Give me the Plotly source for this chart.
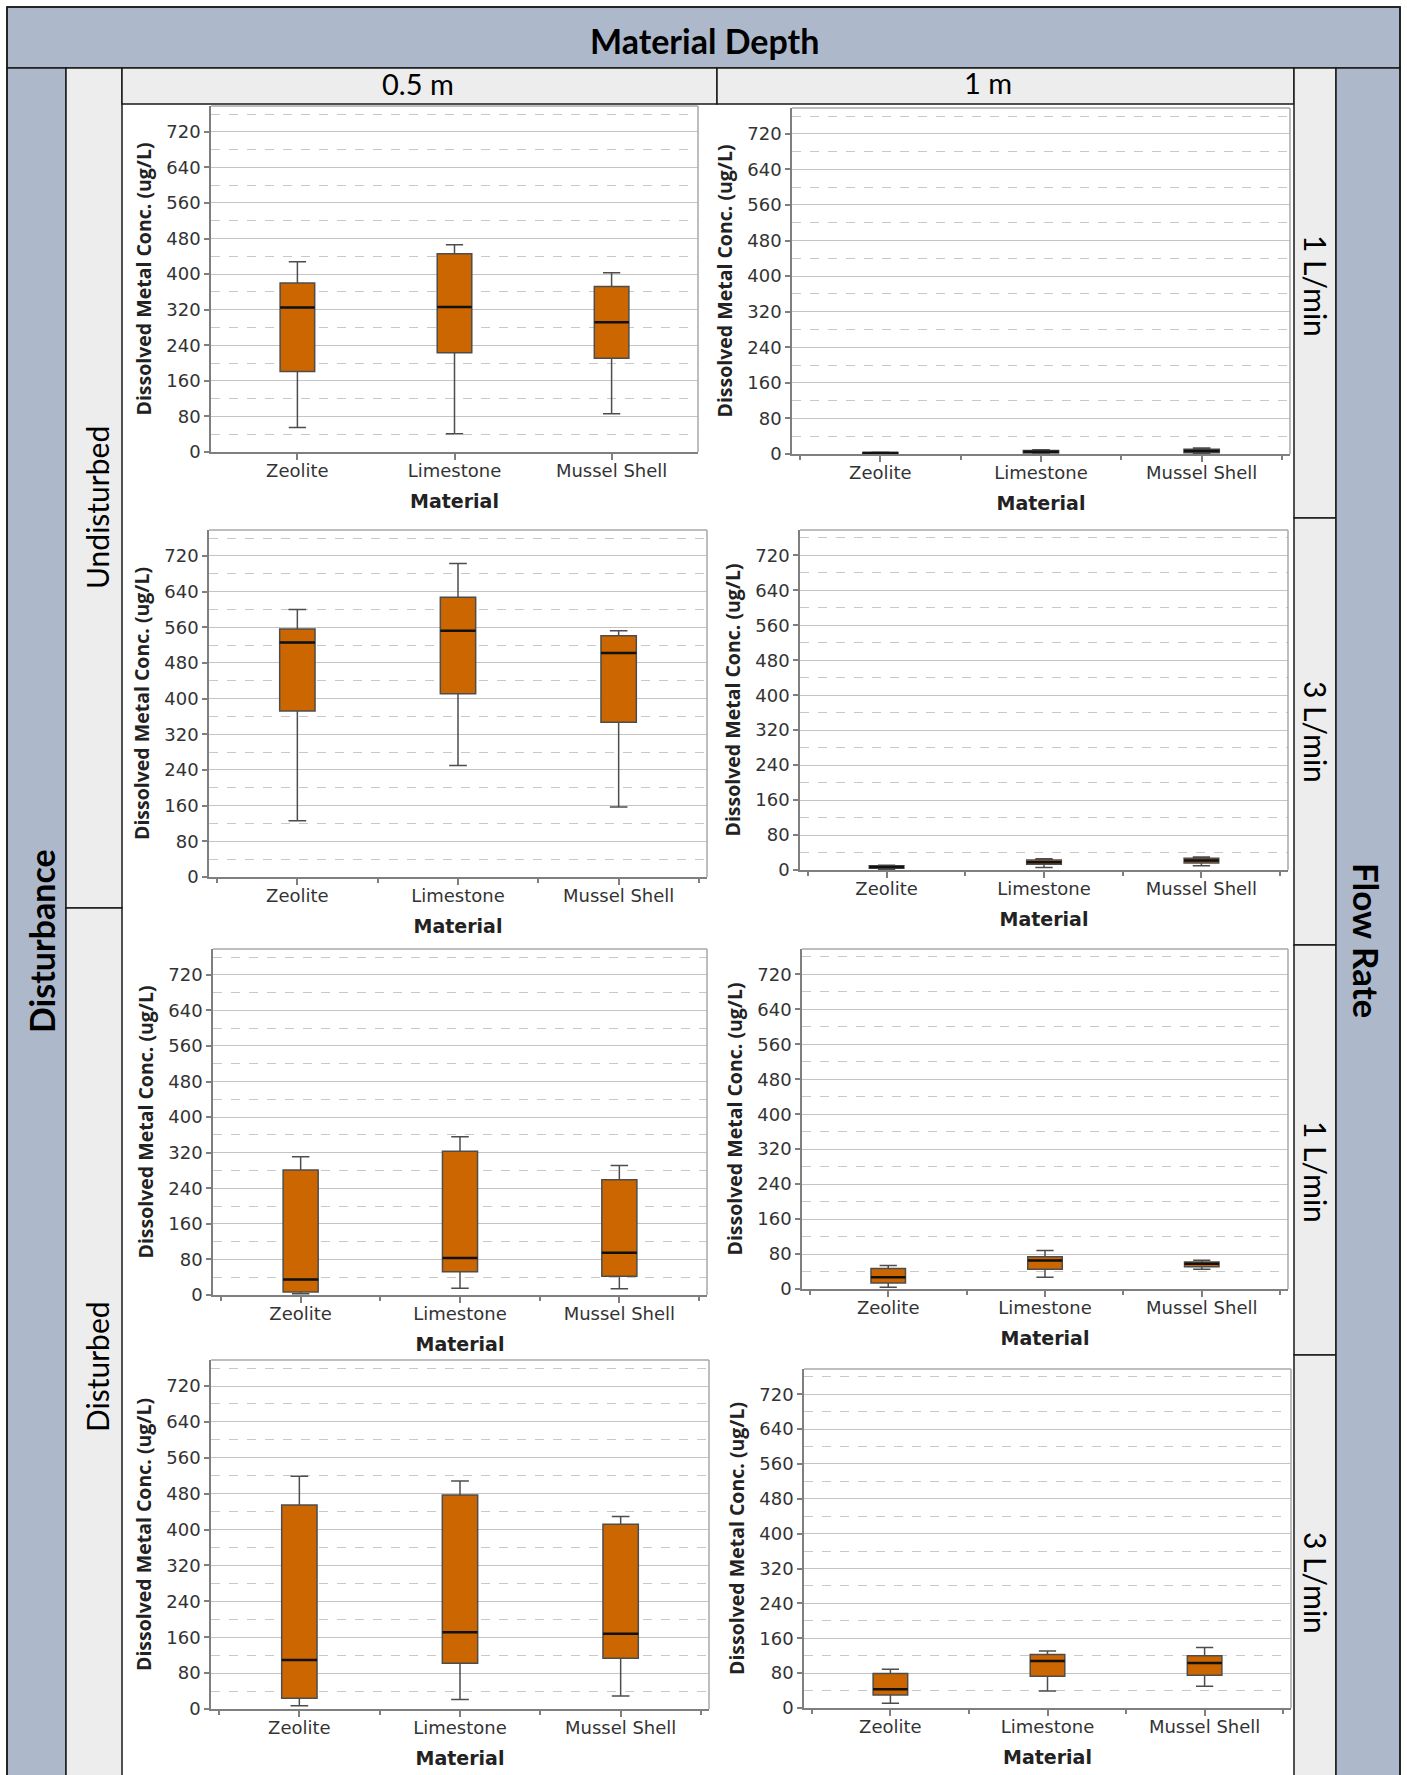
import plotly.graph_objects as go

# ---------------------------------------------------------------------------
# Data: box-plot statistics of dissolved metal concentration (ug/L)
# ---------------------------------------------------------------------------
materials = ["Zeolite", "Limestone", "Mussel Shell"]
depths = ["0.5 m", "1 m"]
flow_rates = ["1 L/min", "3 L/min", "1 L/min", "3 L/min"]
disturbance = ["Undisturbed", "Disturbed"]

# Undisturbed, 1 L/min
und_1_05 = dict(low=[55, 41, 86], q1=[181, 223, 211], med=[325, 326, 292], q3=[380, 446, 372], high=[428, 466, 403])
und_1_10 = dict(low=[0.5, 0.5, 1], q1=[1, 2, 3], med=[2, 5, 7], q3=[3.5, 8, 10.5], high=[4, 9.5, 13.5])
# Undisturbed, 3 L/min
und_3_05 = dict(low=[126, 250, 157], q1=[372, 411, 347], med=[526, 552, 502], q3=[556, 627, 541], high=[600, 703, 552])
und_3_10 = dict(low=[1, 6, 10], q1=[4, 13, 16], med=[7, 18, 22], q3=[10, 23, 27], high=[11, 26, 30])
# Disturbed, 1 L/min
dis_1_05 = dict(low=[3, 15, 14], q1=[7, 52, 42], med=[35, 83, 95], q3=[281, 323, 259], high=[311, 356, 291])
dis_1_10 = dict(low=[4, 27, 45], q1=[14, 45, 51], med=[27, 65, 58], q3=[47, 74, 62], high=[54, 88, 66])
# Disturbed, 3 L/min
dis_3_05 = dict(low=[7, 21, 29], q1=[24, 102, 113], med=[109, 171, 168], q3=[455, 477, 412], high=[519, 508, 429])
dis_3_10 = dict(low=[11, 39, 50], q1=[30, 73, 75], med=[43, 108, 103], q3=[79, 123, 120], high=[89, 131, 139])

y_ticks = [0, 80, 160, 240, 320, 400, 480, 560, 640, 720]
y_top = 778

# ---------------------------------------------------------------------------
# Page geometry (pixels) and styling
# ---------------------------------------------------------------------------
W, H = 1407, 1775
BLUE = "#ADB9CA"
GREY = "#EDEDED"
BOX_FILL = "#CC6600"
AXIS_GREY = "#7f7f7f"

panels = [
    # (stats, plot-area left, right, top, bottom) in page pixels
    (und_1_05, 211, 698, 106, 452),
    (und_1_10, 792, 1290, 108, 454),
    (und_3_05, 209, 707, 530, 877),
    (und_3_10, 800, 1288, 530, 870),
    (dis_1_05, 213, 707, 949, 1295),
    (dis_1_10, 802, 1288, 949, 1289),
    (dis_3_05, 211, 709, 1360, 1709),
    (dis_3_10, 804, 1291, 1369, 1708),
]


def px(x):
    return x / W


def py(y):
    return 1 - y / H


fig = go.Figure()
layout = dict(
    width=W, height=H,
    margin=dict(l=0, r=0, t=0, b=0),
    paper_bgcolor="white", plot_bgcolor="white",
    showlegend=False,
)
shapes = []
annotations = []

tick_font = dict(family="DejaVu Sans", size=18, color="#333333")
box_half = 0.11
positions = list(range(len(materials)))

for i, (st, x0, x1, y0, y1) in enumerate(panels):
    n = "" if i == 0 else str(i + 1)
    xa, ya = "x" + n, "y" + n

    fig.add_trace(go.Box(
        x=positions, q1=st["q1"], median=st["med"], q3=st["q3"],
        lowerfence=st["low"], upperfence=st["high"],
        xaxis=xa, yaxis=ya,
        fillcolor=BOX_FILL, line=dict(color="#4d4d4d", width=1.5),
        width=2 * box_half, whiskerwidth=0.5, boxpoints=False,
        hoverinfo="skip",
    ))
    # heavier median bars
    mx, my = [], []
    for p, m in zip(positions, st["med"]):
        mx += [p - box_half, p + box_half, None]
        my += [m, m, None]
    fig.add_trace(go.Scatter(
        x=mx, y=my, mode="lines", xaxis=xa, yaxis=ya,
        line=dict(color="#111111", width=2.5), hoverinfo="skip",
    ))

    minor_x = dict(tickvals=[-0.5, 0.5, 1.5, 2.5], ticks="outside", ticklen=4,
                   tickcolor=AXIS_GREY, tickwidth=1.5)
    if i == 0:
        minor_x = dict(tickvals=[], ticks="")
    layout["xaxis" + n] = dict(
        domain=[px(x0), px(x1)], anchor=ya,
        range=[-0.55, 2.55], tickmode="array", tickvals=positions, ticktext=materials,
        ticks="outside", ticklen=6, tickwidth=1.5, tickcolor=AXIS_GREY,
        ticklabelstandoff=-4,
        showline=True, linecolor=AXIS_GREY, linewidth=1.5,
        showgrid=False, zeroline=False, automargin=False,
        tickfont=tick_font, minor=minor_x,
        title=dict(text="<b>Material</b>", standoff=14,
                   font=dict(family="DejaVu Sans", size=19, color="#222222")),
    )
    layout["yaxis" + n] = dict(
        domain=[py(y1), py(y0)], anchor=xa,
        range=[0, y_top], tickmode="array", tickvals=y_ticks,
        ticks="outside", ticklen=5, tickwidth=1.5, tickcolor=AXIS_GREY,
        showline=True, linecolor=AXIS_GREY, linewidth=1.5,
        showgrid=True, gridcolor="#c4c4c4", gridwidth=1.2,
        zeroline=False, automargin=False, tickfont=tick_font,
        minor=dict(tickmode="linear", tick0=0, dtick=40, showgrid=True,
                   gridcolor="#c8c8c8", griddash="dash", gridwidth=1.2),
        title=dict(text="<b>Dissolved Metal Conc. (ug/L)</b>", standoff=9,
                   font=dict(family="Open Sans", size=19.5, color="#222222")),
    )
    # light frame on top and right of the plot area
    for (ax0, ay0, ax1, ay1) in [(0, 1, 1, 1), (1, 0, 1, 1)]:
        shapes.append(dict(type="line", xref=xa + " domain", yref=ya + " domain",
                           x0=ax0, y0=ay0, x1=ax1, y1=ay1,
                           line=dict(color="#a8a8a8", width=1.5), layer="above"))


def rect(x0, y0, x1, y1, fill):
    shapes.append(dict(type="rect", xref="paper", yref="paper",
                       x0=px(x0), x1=px(x1), y0=py(y1), y1=py(y0),
                       fillcolor=fill, line=dict(color="#1a1a1a", width=1.5),
                       layer="above"))


def label(text, x, y, size, bold=False, angle=0):
    annotations.append(dict(
        text=f"<b>{text}</b>" if bold else text, xref="paper", yref="paper",
        x=px(x), y=py(y), xanchor="center", yanchor="middle", showarrow=False,
        textangle=angle, font=dict(family="Lato", size=size, color="#000000"),
    ))


# table frame: header bands and side strips
rect(7, 7, 1400, 68, BLUE)
rect(7, 68, 66, 1776, BLUE)
rect(66, 68, 122, 908, GREY)
rect(66, 908, 122, 1776, GREY)
rect(122, 68, 717, 104, GREY)
rect(717, 68, 1294, 104, GREY)
for ya0, ya1 in [(68, 518), (518, 945), (945, 1355), (1355, 1776)]:
    rect(1294, ya0, 1336, ya1, GREY)
rect(1336, 68, 1400, 1776, BLUE)
shapes.append(dict(type="rect", xref="paper", yref="paper", x0=px(7), x1=px(1400),
                   y0=py(1776), y1=py(7), line=dict(color="#1a1a1a", width=1.5),
                   layer="above"))

label("Material Depth", 704, 41, 34, bold=True)
label(depths[0], 418, 84, 29)
label(depths[1], 988, 83, 29)
label("Disturbance", 41, 941, 34, bold=True, angle=-90)
label(disturbance[0], 97, 507, 30, angle=-90)
label(disturbance[1], 97, 1366, 30, angle=-90)
label("Flow Rate", 1367, 940, 35, bold=True, angle=90)
for txt, yc in zip(flow_rates, [286, 732, 1172, 1583]):
    label(txt, 1316, yc, 30, angle=90)

layout["shapes"] = shapes
layout["annotations"] = annotations
fig.update_layout(**layout)

fig.write_html("out.html")
